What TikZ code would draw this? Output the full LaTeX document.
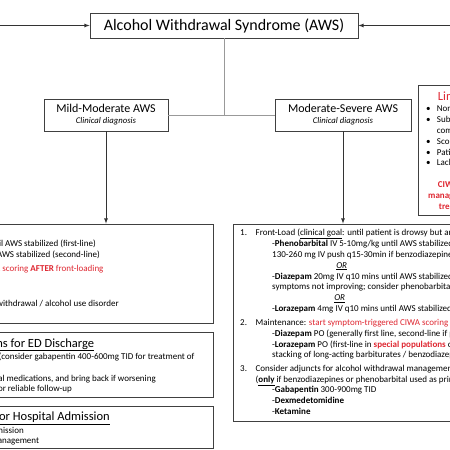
\documentclass[tikz,border=0pt]{standalone}
\usepackage{fontspec}
\setmainfont{Carlito}
\definecolor{alertred}{RGB}{222,38,48}
\begin{document}
\begin{tikzpicture}[x=1pt,y=-1pt]
        \tikzstyle{box} = [draw=black!75,line width=0.8pt,inner sep=0pt]
        \tikzstyle{txt} = [anchor=base west,inner sep=0pt,font=\fontsize{9}{10}\selectfont]
        \tikzstyle{ltxt} = [anchor=base east,inner sep=0pt,font=\fontsize{9}{10}\selectfont]
        \tikzstyle{head} = [anchor=base east,inner sep=0pt,font=\fontsize{12.5}{14}\selectfont]
        \tikzstyle{link} = [draw=black!40,line width=0.6pt]
        \tikzstyle{arrow} = [draw=black!80,line width=0.8pt,->,>=latex]

        \useasboundingbox (0,0) rectangle (450,450);
        \clip (0,0) rectangle (450,450);

        % top and the two kinds of AWS
        \node[box,minimum width=268pt,minimum height=25pt,font=\fontsize{16}{18}\selectfont] (aws) at (224,25.5) {Alcohol Withdrawal Syndrome (AWS)};
        \node[box,minimum width=124pt,minimum height=32pt,align=center] (mild) at (106,115)
            {{\fontsize{12}{13}\selectfont Mild-Moderate AWS}\\[-1pt]{\fontsize{8.7}{9}\selectfont\itshape Clinical diagnosis}};
        \node[box,minimum width=136pt,minimum height=32pt,align=center] (sev) at (343,115)
            {{\fontsize{12}{13}\selectfont Moderate-Severe AWS}\\[-1pt]{\fontsize{8.7}{9}\selectfont\itshape Clinical diagnosis}};

        \coordinate (lin) at (-10,25.5);
        \coordinate (rin) at (460,25.5);
        \coordinate (fork) at (224,115);

        % boxes below
        \node[box,minimum width=142pt,minimum height=130pt] (lim) at (489,150) {};
        \node[box,minimum width=353pt,minimum height=99pt] (mildbox) at (36.5,273.5) {};
        \node[box,minimum width=353pt,minimum height=65pt] (dis) at (36.5,364.5) {};
        \node[box,minimum width=353pt,minimum height=42pt] (adm) at (36.5,427) {};
        \node[box,minimum width=367pt,minimum height=197pt] (sevbox) at (416.5,322.5) {};

        % connectors
        \draw[arrow] (lin) -- (aws.west);
        \draw[arrow] (rin) -- (aws.east);
        \draw[link] (aws.south) -- (fork);
        \draw[link] (mild.east) -- (sev.west);
        \draw[arrow] (mild.south) -- (mild.south |- mildbox.north);
        \draw[arrow] (sev.south) -- (sev.south |- sevbox.north);

        % limitations
        \node[txt,font=\fontsize{12.5}{14}\selectfont,text=alertred] (limt) at (437.7,100.5) {Limitations of CIWA};
        \node[txt] (b1) at (426,111.7) {\textbullet};
        \node[txt] (b2) at (426,122.7) {\textbullet};
        \node[txt] (b3) at (426,144.3) {\textbullet};
        \node[txt] (b4) at (426,155) {\textbullet};
        \node[txt] (b5) at (426,165.7) {\textbullet};
        \node[txt] (lim1) at (436.7,111.7) {Nonspecific symptoms};
        \node[txt] (lim2) at (436.7,122.7) {Subjective, requires patient to};
        \node[txt] (lim3) at (436.7,133.3) {communicate};
        \node[txt] (lim4) at (436.7,144.3) {Scores vary by provider};
        \node[txt] (lim5) at (436.7,155) {Patients may be too sedated};
        \node[txt] (lim6) at (436.7,165.7) {Lack of validation in the ED};
        \node[txt,text=alertred,font=\fontsize{9}{10}\selectfont\bfseries] (ciwa1) at (437.7,187.3) {CIWA should not guide};
        \node[txt,text=alertred,font=\fontsize{9}{10}\selectfont\bfseries] (ciwa2) at (428,198.3) {management of initial};
        \node[txt,text=alertred,font=\fontsize{9}{10}\selectfont\bfseries] (ciwa3) at (438.7,209) {treatment};

        % mild-moderate
        \node[ltxt] (m1) at (96,246.3) {-Phenobarbital PO until AWS stabilized (first-line)};
        \node[ltxt] (m2) at (100,257) {-Diazepam PO until AWS stabilized (second-line)};
        \node[ltxt,text=alertred] (m3) at (103.7,271) {start symptom-triggered CIWA scoring \textbf{AFTER} front-loading};
        \node[ltxt] (m4) at (119,306.7) {Consider adjuncts for alcohol withdrawal / alcohol use disorder};

        \node[head] (dist) at (94.3,347) {\underline{Considerations for ED Discharge}};
        \node[ltxt] (d1) at (194.7,359.7) {-Adjuncts (consider gabapentin 400-600mg TID for treatment of};
        \node[ltxt] (d2) at (156,381) {-Avoid additional medications, and bring back if worsening};
        \node[ltxt] (d3) at (72,391.7) {-Ensure plan for reliable follow-up};

        \node[head] (admt) at (110,420.7) {\underline{Criteria for Hospital Admission}};
        \node[ltxt] (a1) at (24,433) {-Requires ICU admission};
        \node[ltxt] (a2) at (39.3,443.7) {-Needs inpatient management};

        % moderate-severe
        \node[txt] (n1) at (240,235.7) {1.};
        \node[txt] (s1) at (255.5,235.7) {Front-Load (\underline{clinical goal}: until patient is drowsy but arousable)};
        \node[txt] (s2) at (272,246.3) {-\textbf{Phenobarbital} IV 5-10mg/kg until AWS stabilized (first-line) OR};
        \node[txt] (s3) at (272,257) {130-260 mg IV push q15-30min if benzodiazepine refractory};
        \node[txt,anchor=base] (or1) at (341.7,268) {\underline{\itshape OR}};
        \node[txt] (s4) at (272,279) {-\textbf{Diazepam} 20mg IV q10 mins until AWS stabilized; if};
        \node[txt] (s5) at (272,289.7) {symptoms not improving; consider phenobarbital};
        \node[txt,anchor=base] (or2) at (339.7,300.3) {\underline{\itshape OR}};
        \node[txt] (s6) at (272,311) {-\textbf{Lorazepam} 4mg IV q10 mins until AWS stabilized};
        \node[txt] (n2) at (240,325) {2.};
        \node[txt] (s7) at (255.5,325) {Maintenance: \textcolor{alertred}{start symptom-triggered CIWA scoring \textbf{AFTER} front-loading}};
        \node[txt] (s8) at (272,336) {-\textbf{Diazepam} PO (generally first line, second-line if patient elderly)};
        \node[txt] (s9) at (272,347) {-\textbf{Lorazepam} PO (first-line in \textcolor{alertred}{\textbf{special populations}} or concern for};
        \node[txt] (s10) at (272,357.7) {stacking of long-acting barbiturates / benzodiazepines)};
        \node[txt] (n3) at (240,371.3) {3.};
        \node[txt] (s11) at (255.5,371.3) {Consider adjuncts for alcohol withdrawal management};
        \node[txt] (s12) at (255.5,382) {(\underline{\textbf{only}} if benzodiazepines or phenobarbital used as primary agent)};
        \node[txt] (s13) at (272,392.7) {-\textbf{Gabapentin} 300-900mg TID};
        \node[txt] (s14) at (272,403.3) {-\textbf{Dexmedetomidine}};
        \node[txt] (s15) at (272,414.3) {-\textbf{Ketamine}};

    \end{tikzpicture}
\end{document}
